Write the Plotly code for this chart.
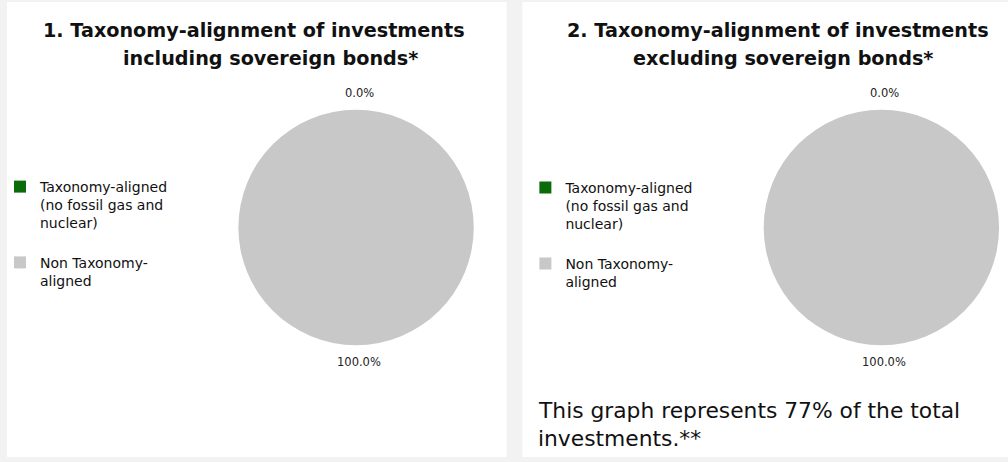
import math
import plotly.graph_objects as go

# ---- data ----
categories = ["Taxonomy-aligned<br>(no fossil gas and<br>nuclear)<br>", "Non Taxonomy-<br>aligned"]
values_incl = [0.0, 100.0]
values_excl = [0.0, 100.0]
slice_colors = ["#0b6b0b", "#c8c8c8"]
titles = [
    ["1. Taxonomy-alignment of investments", "including sovereign bonds*"],
    ["2. Taxonomy-alignment of investments", "excluding sovereign bonds*"],
]
note_lines = ["This graph represents 77% of the total", "investments.**"]

W, H = 1008, 462
def px(x):
    return x / W
def py(y):
    return 1 - y / H

fig = go.Figure()

# second pie gets invisibly distinct labels so that plotly shows its own legend entries
pies = [
    dict(vals=values_incl, labels=categories, cx=351.5, cy=227.5, r=118.5, legend="legend"),
    dict(vals=values_excl, labels=[c + " " for c in categories], cx=880.5, cy=227.5, r=118.5,
         legend="legend2"),
]

for p in pies:
    fig.add_trace(go.Pie(
        labels=p["labels"], values=p["vals"], sort=False, direction="clockwise",
        rotation=0, textinfo="none", hoverinfo="label+percent",
        marker=dict(colors=slice_colors, line=dict(width=0)),
        domain=dict(x=[px(p["cx"] - p["r"]), px(p["cx"] + p["r"])],
                    y=[py(p["cy"] + p["r"]), py(p["cy"] - p["r"])]),
        legend=p["legend"], showlegend=True,
    ))

annotations = []
for p in pies:
    total = sum(p["vals"])
    cum = 0.0
    for v in p["vals"]:
        frac = (cum + v / 2) / total
        th = 2 * math.pi * frac
        d = p["r"] + 16
        x = p["cx"] + d * math.sin(th)
        y = p["cy"] - d * math.cos(th)
        annotations.append(dict(
            x=px(x), y=py(y), xref="paper", yref="paper", showarrow=False,
            text=f"{v / total * 100:.1f}%", xshift=3,
            font=dict(family="DejaVu Sans", size=11.5, color="#222222"),
            xanchor="center", yanchor="middle"))
        cum += v

title_pos = [[(249, 30), (265, 59)], [(776, 30), (781.5, 59)]]
for t, pos in zip(titles, title_pos):
    for line, (x, y) in zip(t, pos):
        annotations.append(dict(
            x=px(x), y=py(y), xref="paper", yref="paper", showarrow=False,
            text=f"<b>{line}</b>", xanchor="center", yanchor="middle",
            font=dict(family="DejaVu Sans", size=19.2, color="#111111")))

for line, y in zip(note_lines, [410, 438]):
    annotations.append(dict(
        x=px(533), y=py(y), xref="paper", yref="paper", showarrow=False,
        text=line, xanchor="left", yanchor="middle",
        font=dict(family="DejaVu Sans", size=21.8, color="#111111")))

shapes = [
    dict(type="rect", xref="paper", yref="paper", x0=px(0), x1=px(503), y0=py(457), y1=py(2),
         fillcolor="white", line=dict(width=0), layer="below"),
    dict(type="rect", xref="paper", yref="paper", x0=px(519), x1=px(1008), y0=py(457), y1=py(2),
         fillcolor="white", line=dict(width=0), layer="below"),
]

legend_style = dict(
    bgcolor="rgba(0,0,0,0)", borderwidth=0, valign="top", yanchor="top", xanchor="left",
    font=dict(family="DejaVu Sans", size=14, color="#111111"), tracegroupgap=0,
    itemclick=False, itemdoubleclick=False,
)

fig.update_layout(
    width=W, height=H, margin=dict(l=0, r=0, t=0, b=0),
    paper_bgcolor="#f2f2f2", plot_bgcolor="white",
    annotations=annotations, shapes=shapes,
    legend=dict(x=px(-7.5), y=py(171), **legend_style),
    legend2=dict(x=px(522), y=py(172), **legend_style),
)

fig.write_html("out.html", config={"displayModeBar": False},
               post_script="document.body.style.margin='0';document.body.style.overflow='hidden';")
